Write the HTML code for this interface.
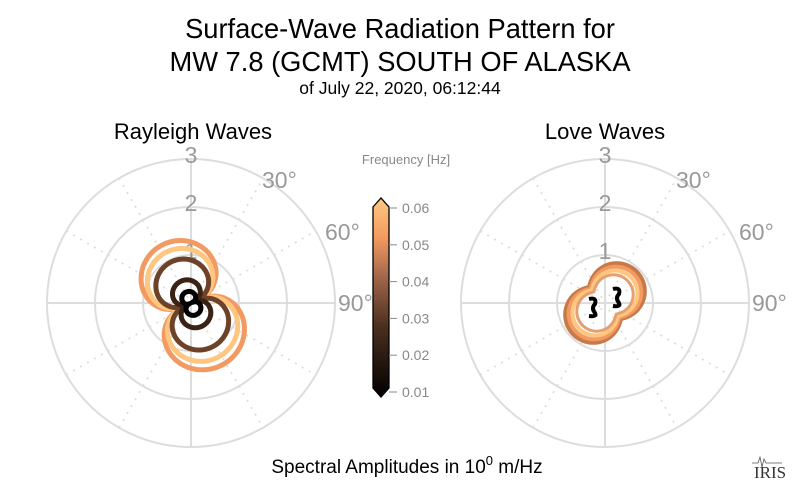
<!DOCTYPE html>
<html><head><style>
body{margin:0;background:#fff;}
svg{display:block;font-family:"Liberation Sans",sans-serif;}
</style></head><body>
<svg id="s" width="800" height="493" viewBox="0 0 800 493">
<defs>
<linearGradient id="cb" x1="0" y1="1" x2="0" y2="0">
<stop offset="0" stop-color="#000"/>
<stop offset="0.35" stop-color="#4a2e1e"/>
<stop offset="0.6" stop-color="#a0664a"/>
<stop offset="0.8" stop-color="#f39a60"/>
<stop offset="1" stop-color="#ffc882"/>
</linearGradient>
</defs>
<text x="400" y="38" font-size="27.3" text-anchor="middle" fill="#000">Surface-Wave Radiation Pattern for</text>
<text x="400" y="71" font-size="27.3" text-anchor="middle" fill="#000">MW 7.8 (GCMT) SOUTH OF ALASKA</text>
<text x="400" y="94" font-size="17.5" text-anchor="middle" fill="#000">of July 22, 2020, 06:12:44</text>
<text x="193" y="139" font-size="22" text-anchor="middle" fill="#000">Rayleigh Waves</text>
<text x="605" y="139" font-size="22" text-anchor="middle" fill="#000">Love Waves</text>
<g id="p1"></g><g id="p2"></g>
<text x="406" y="164" font-size="13" text-anchor="middle" fill="#888">Frequency [Hz]</text>
<path d="M373,207 L381,198 L389,207 L389,388 L381,397 L373,388 Z" fill="url(#cb)" stroke="#000" stroke-width="1.3"/>
<g id="cbt" font-size="14" fill="#888"></g>
<text x="407" y="473" font-size="19" text-anchor="middle" fill="#000">Spectral Amplitudes in 10<tspan dy="-8" font-size="13">0</tspan><tspan dy="8"> m/Hz</tspan></text>
<text x="770" y="478" font-size="17" font-family="Liberation Serif,serif" text-anchor="middle" fill="#333">IRIS</text>
<path d="M752,463 l6,0 l2,-6 l2,10 l2,-8 l2,4 l16,0" fill="none" stroke="#555" stroke-width="0.8"/>
</svg>
<script>
const NS="http://www.w3.org/2000/svg";
function el(p,t,a){const e=document.createElementNS(NS,t);for(const k in a)e.setAttribute(k,a[k]);p.appendChild(e);return e;}
function grid(g,cx,cy){
 const u=48;
 for(let i=1;i<=3;i++) el(g,'circle',{cx,cy,r:i*u,fill:'none',stroke:'#ddd','stroke-width':2});
 for(let a=0;a<180;a+=30){const r=a*Math.PI/180,R=3*u;
  el(g,'line',{x1:cx-R*Math.sin(r),y1:cy+R*Math.cos(r),x2:cx+R*Math.sin(r),y2:cy-R*Math.cos(r),stroke:'#ddd','stroke-width':a%90?1.8:2,'stroke-dasharray':a%90?'2 6':'none'});}
 [['3',cy-144],['2',cy-96],['1',cy-48]].forEach(t=>el(g,'text',{x:cx,y:t[1]+4,'font-size':23,'text-anchor':'middle',fill:'#999'}).textContent=t[0]);
 el(g,'text',{x:cx+71,y:cy-115,'font-size':23,fill:'#999'}).textContent='30°';
 el(g,'text',{x:cx+134,y:cy-63,'font-size':23,fill:'#999'}).textContent='60°';
 el(g,'text',{x:cx+147,y:cy+8,'font-size':23,fill:'#999'}).textContent='90°';
}
function curve(g,cx,cy,f,col,w){
 let d='';for(let i=0;i<=360;i++){const t=i*Math.PI/180,r=f(t)*48;
  d+=(i?'L':'M')+(cx+r*Math.sin(t)).toFixed(1)+','+(cy-r*Math.cos(t)).toFixed(1);}
 el(g,'path',{d:d+'Z',fill:'none',stroke:col,'stroke-width':w,'stroke-linejoin':'round'});
}
const g1=document.getElementById('p1'),g2=document.getElementById('p2');
grid(g1,191,303);grid(g2,605,303);
const phi=-25*Math.PI/180;
function ray(A){return t=>{const c=Math.cos(t-phi);const s=c<0?1.07:1;return A*s*(0.12+0.88*Math.pow(Math.abs(c),0.7));};}
[[1.35,'#f29a62',5],[1.18,'#ffc680',5],[0.95,'#6e4228',5],[0.5,'#3a2214',5],[0.25,'#000',5]].forEach(c=>curve(g1,191,303,ray(c[0]),c[1],c[2]));
const ph2=45*Math.PI/180;
function love(A){return t=>{const c=Math.abs(Math.cos(t-ph2));return A*(0.5+0.5*Math.pow(c,1.2));};}
[[0.92,'#c77a48',5],[0.85,'#f29a62',4],[0.76,'#ffc680',4],[0.66,'#e6a070',3]].forEach(c=>curve(g2,605,303,love(c[0]),c[1],c[2]));
function sshape(cx,cy){el(g2,'path',{d:`M${cx-4},${cy-8} q8,-2 6,5 q-4,4 0,9 q2,4 -6,3`,fill:'none',stroke:'#000','stroke-width':4});}
sshape(593,307);sshape(617,297);
const cbt=document.getElementById('cbt');
[0.06,0.05,0.04,0.03,0.02,0.01].forEach((v,i)=>{const y=208+i*36.8;
 el(cbt,'line',{x1:389,y1:y,x2:397,y2:y,stroke:'#888','stroke-width':1});
 el(cbt,'text',{x:402,y:y+5}).textContent=v.toFixed(2);});
</script>
</body></html>
